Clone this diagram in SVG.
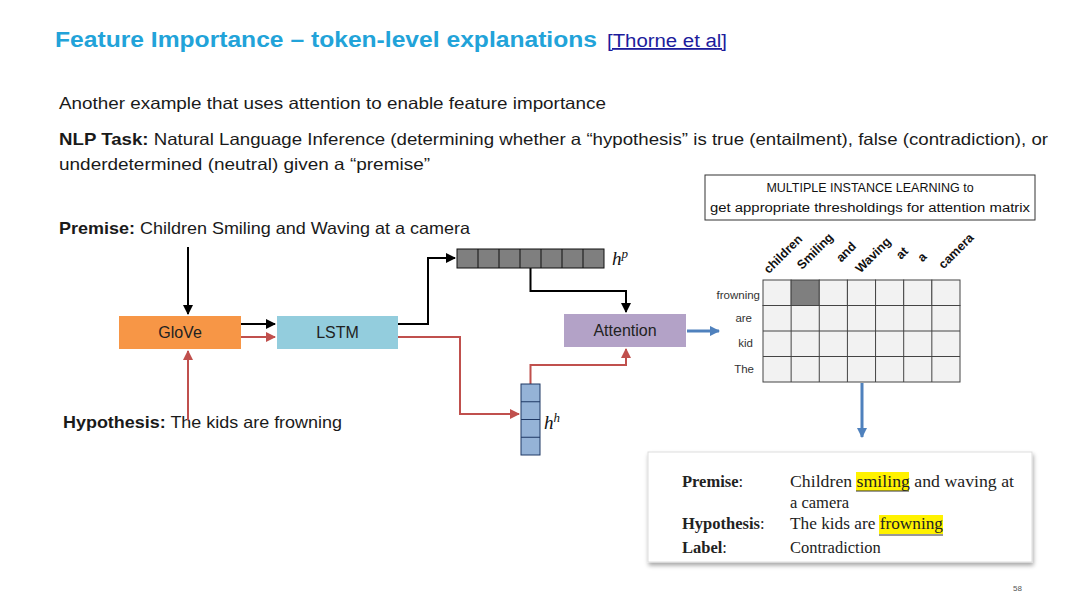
<svg xmlns="http://www.w3.org/2000/svg" width="1080" height="608" viewBox="0 0 1080 608">
<defs>
<style>
.body{font-family:"Liberation Sans",Arial,sans-serif;font-size:16.5px;fill:#1a1a1a}
.b{font-weight:bold}
.box{font-family:"Liberation Sans",Arial,sans-serif;font-size:16px;fill:#222;text-anchor:middle}
.small{font-family:"Liberation Sans",Arial,sans-serif;font-size:12.5px;fill:#111;text-anchor:middle}
.col{font-family:"Liberation Sans",Arial,sans-serif;font-size:12.5px;font-weight:bold;fill:#111;text-anchor:middle}
.row{font-family:"Liberation Sans",Arial,sans-serif;font-size:11.5px;fill:#333;text-anchor:end}
.tm{font-family:"Liberation Serif","Times New Roman",serif;font-size:16.5px;fill:#222}
.math{font-family:"Liberation Serif","Times New Roman",serif;font-style:italic;font-size:19px;fill:#111}
.blk{fill:none;stroke:#000;stroke-width:2}
.red{fill:none;stroke:#C0504D;stroke-width:2}
.blu{fill:none;stroke:#4F81BD;stroke-width:3}
.cell{fill:#F2F2F2;stroke:#444;stroke-width:1}
</style>
<marker id="ab" viewBox="0 0 10 10" refX="9" refY="5" markerWidth="5" markerHeight="5" orient="auto" markerUnits="strokeWidth"><path d="M0,0 L10,5 L0,10 z" fill="#000"/></marker>
<marker id="ar" viewBox="0 0 10 10" refX="9" refY="5" markerWidth="5" markerHeight="5" orient="auto" markerUnits="strokeWidth"><path d="M0,0 L10,5 L0,10 z" fill="#C0504D"/></marker>
<marker id="au" viewBox="0 0 10 10" refX="9" refY="5" markerWidth="3.5" markerHeight="3.5" orient="auto" markerUnits="strokeWidth"><path d="M0,0 L10,5 L0,10 z" fill="#4F81BD"/></marker>
<filter id="sh" x="-5%" y="-5%" width="110%" height="115%"><feDropShadow dx="1" dy="3" stdDeviation="2" flood-color="#000" flood-opacity="0.35"/></filter>
</defs>
<rect width="1080" height="608" fill="#fff"/>

<g id="title">
<text x="55" y="47" font-family="Liberation Sans,Arial,sans-serif" font-size="22" font-weight="bold" fill="#22A3D9" textLength="542" lengthAdjust="spacingAndGlyphs">Feature Importance – token-level explanations</text>
<text x="607" y="47" font-family="Liberation Sans,Arial,sans-serif" font-size="18" fill="#1C1C9C" text-decoration="underline" textLength="120" lengthAdjust="spacingAndGlyphs">[Thorne et al]</text>
</g>

<g id="intro">
<text class="body" x="59" y="109" textLength="547" lengthAdjust="spacingAndGlyphs">Another example that uses attention to enable feature importance</text>
<text class="body" x="59" y="145" textLength="989" lengthAdjust="spacingAndGlyphs"><tspan class="b">NLP Task:</tspan>  Natural Language Inference (determining whether a “hypothesis” is true (entailment), false (contradiction), or</text>
<text class="body" x="59" y="170" textLength="371" lengthAdjust="spacingAndGlyphs">underdetermined (neutral) given a “premise”</text>
</g>

<g id="premise">
<text class="body" x="59" y="234" textLength="411" lengthAdjust="spacingAndGlyphs"><tspan class="b">Premise:</tspan> Children Smiling and Waving at a camera</text>
</g>
<g id="hypothesis">
<text class="body" x="63" y="428" textLength="279" lengthAdjust="spacingAndGlyphs"><tspan class="b">Hypothesis:</tspan> The kids are frowning</text>
</g>

<g id="mil">
<rect x="705" y="175" width="330" height="45" fill="#fff" stroke="#333" stroke-width="1"/>
<text class="small" x="870" y="192">MULTIPLE INSTANCE LEARNING to</text>
<text class="small" x="870" y="212" textLength="320" lengthAdjust="spacingAndGlyphs">get appropriate thresholdings for attention matrix</text>
</g>

<g id="connectors">
<path class="blk" d="M188,247 V314" marker-end="url(#ab)"/>
<path class="red" d="M188,420 V351" marker-end="url(#ar)"/>
<path class="blk" d="M241,324 H275" marker-end="url(#ab)"/>
<path class="red" d="M241,337 H275" marker-end="url(#ar)"/>
<path class="blk" d="M398,324 H428 V258 H455" marker-end="url(#ab)"/>
<path class="blk" d="M530.5,268 V291 H626 V312" marker-end="url(#ab)"/>
<path class="red" d="M398,337 H460 V414 H519" marker-end="url(#ar)"/>
<path class="red" d="M530.5,384 V365 H626 V349" marker-end="url(#ar)"/>
<path class="blu" d="M687,331 H719" marker-end="url(#au)"/>
<path class="blu" d="M862,383 V437" marker-end="url(#au)"/>
</g>

<g id="glove">
<rect x="119" y="316" width="122" height="33" fill="#F79646"/>
<text class="box" x="180" y="338">GloVe</text>
</g>
<g id="lstm">
<rect x="277" y="316" width="121" height="33" fill="#93CDDD"/>
<text class="box" x="337.5" y="338">LSTM</text>
</g>
<g id="attention">
<rect x="564" y="314" width="122" height="33" fill="#B3A2C7"/>
<text class="box" x="625" y="336">Attention</text>
</g>

<g id="hp">
<rect x="457" y="249" width="147" height="19" fill="#7F7F7F" stroke="#111" stroke-width="1"/>
<path d="M478,249V268M499,249V268M520,249V268M541,249V268M562,249V268M583,249V268" stroke="#111" stroke-width="1"/>
<text class="math" x="612" y="265">h<tspan font-size="13" dy="-7">p</tspan></text>
</g>
<g id="hh">
<rect x="521" y="384" width="19" height="71" fill="#95B3D7" stroke="#1F3864" stroke-width="1"/>
<path d="M521,401.75H540M521,419.5H540M521,437.25H540" stroke="#1F3864" stroke-width="1"/>
<text class="math" x="544" y="429">h<tspan font-size="13" dy="-7">h</tspan></text>
</g>

<g id="matrix">
<rect class="cell" x="763" y="280" width="28.14" height="25.5"/>
<rect x="791.14" y="280" width="28.14" height="25.5" fill="#7F7F7F" stroke="#444"/>
<g class="cell">
<rect x="819.28" y="280" width="28.14" height="25.5"/><rect x="847.42" y="280" width="28.14" height="25.5"/><rect x="875.56" y="280" width="28.14" height="25.5"/><rect x="903.7" y="280" width="28.14" height="25.5"/><rect x="931.84" y="280" width="28.16" height="25.5"/>
</g>
<g fill="#F2F2F2" stroke="#444" stroke-width="1">
<rect x="763" y="305.5" width="197" height="76.5"/>
</g>
<path d="M763,331H960M763,356.5H960M791.14,305.5V382M819.28,305.5V382M847.42,305.5V382M875.56,305.5V382M903.7,305.5V382M931.84,305.5V382" stroke="#444" stroke-width="1" fill="none"/>
<text class="col" transform="translate(786,257) rotate(-45)">children</text>
<text class="col" transform="translate(818,254) rotate(-45)">Smiling</text>
<text class="col" transform="translate(849,255) rotate(-45)">and</text>
<text class="col" transform="translate(876,258) rotate(-45)">Waving</text>
<text class="col" transform="translate(905,256) rotate(-45)">at</text>
<text class="col" transform="translate(925,260) rotate(-45)">a</text>
<text class="col" transform="translate(959,254) rotate(-45)">camera</text>
<text class="row" x="760" y="299">frowning</text>
<text class="row" x="752" y="322">are</text>
<text class="row" x="753" y="347">kid</text>
<text class="row" x="754" y="373">The</text>
</g>

<g id="example">
<rect x="648" y="452" width="384" height="110" fill="#fff" stroke="#ddd" stroke-width="1" filter="url(#sh)"/>
<rect x="856" y="472" width="53" height="19" fill="#FFF200"/>
<rect x="879" y="515" width="64" height="19" fill="#FFF200"/>
<path d="M856,491H909M879,535H943" stroke="#333" stroke-width="1"/>
<text class="tm b" x="682" y="487">Premise<tspan font-weight="normal">:</tspan></text>
<text class="tm" x="790" y="487" textLength="224" lengthAdjust="spacingAndGlyphs">Children smiling and waving at</text>
<text class="tm" x="790" y="508">a camera</text>
<text class="tm b" x="682" y="529">Hypothesis<tspan font-weight="normal">:</tspan></text>
<text class="tm" x="790" y="529" textLength="153" lengthAdjust="spacingAndGlyphs">The kids are frowning</text>
<text class="tm b" x="682" y="553">Label<tspan font-weight="normal">:</tspan></text>
<text class="tm" x="790" y="553">Contradiction</text>
</g>

<text x="1013" y="591" font-family="Liberation Sans,Arial,sans-serif" font-size="8" fill="#555">58</text>
</svg>
